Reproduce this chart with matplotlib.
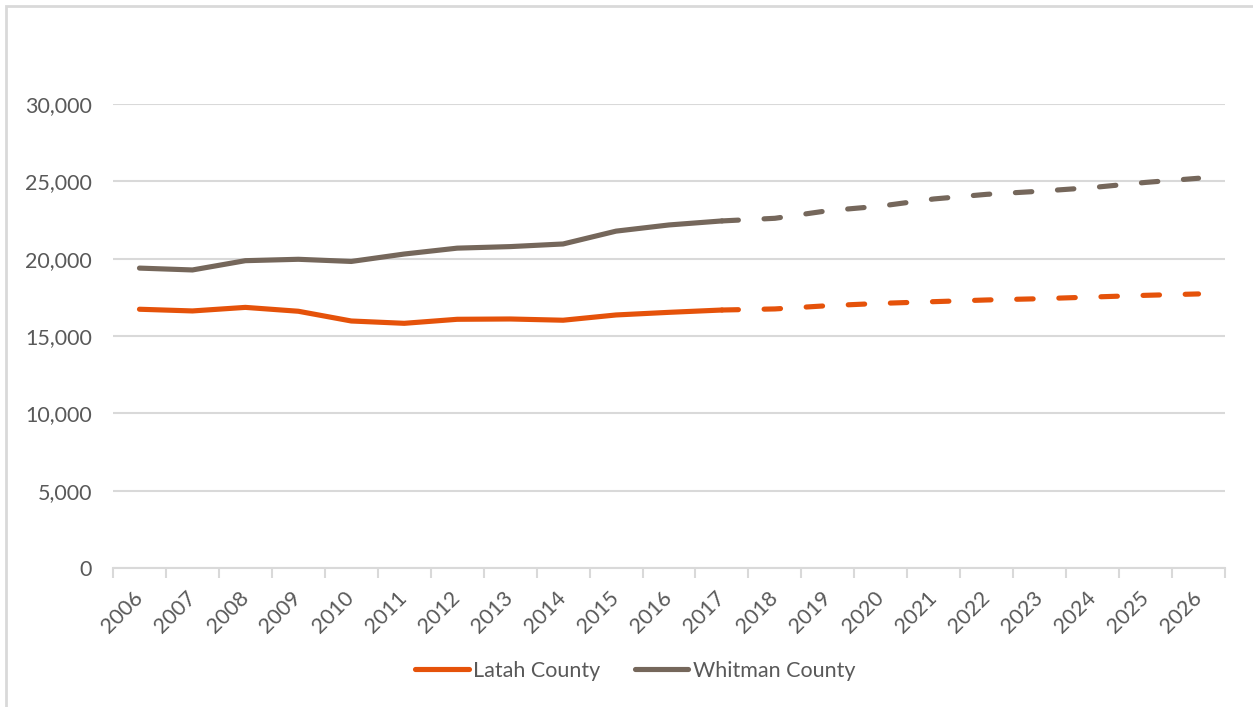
import matplotlib
matplotlib.use("Agg")
import matplotlib.pyplot as plt
from matplotlib.patches import Rectangle
from matplotlib.ticker import FuncFormatter, FixedLocator
from matplotlib.transforms import ScaledTranslation
import numpy as np

plt.rcParams['font.family'] = ['Lato', 'DejaVu Sans']

# years on the category axis
years = [str(y) for y in range(2006, 2027)]

# enrollment history (2006-2017) and projection (2017-2026)
latah_hist = [16730, 16620, 16850, 16600, 15970, 15820, 16080, 16100, 16020, 16360, 16530, 16680]
latah_proj = [16680, 16750, 16960, 17110, 17220, 17330, 17410, 17520, 17630, 17720]
whitman_hist = [19390, 19270, 19870, 19960, 19820, 20300, 20680, 20780, 20950, 21780, 22180, 22440]
whitman_proj = [22440, 22610, 23100, 23400, 23860, 24160, 24360, 24600, 24930, 25200]

orange = '#E5520A'
brown = '#75675B'
txt = '#595959'
grid = '#D9D9D9'

fig = plt.figure(figsize=(12.53, 7.07), dpi=100)
ax = fig.add_axes([113 / 1253, 1 - 568 / 707, 1112 / 1253, 464 / 707])

x = np.arange(len(years))
n_hist = len(latah_hist)
x_hist = x[:n_hist]
x_proj = x[n_hist - 1:]

lw = 3.7
ax.plot(x_hist, latah_hist, color=orange, lw=lw, solid_capstyle='round',
        solid_joinstyle='round', label='Latah County', zorder=3)
ax.plot(x_hist, whitman_hist, color=brown, lw=lw, solid_capstyle='round',
        solid_joinstyle='round', label='Whitman County', zorder=3)
ax.plot(x_proj, latah_proj, color=orange, lw=lw, dashes=(3.2, 5.0),
        dash_capstyle='round', zorder=3)
ax.plot(x_proj, whitman_proj, color=brown, lw=lw, dashes=(3.2, 5.0),
        dash_capstyle='round', zorder=3)

ax.set_xlim(-0.5, len(years) - 0.5)
ax.set_ylim(0, 30000)
ax.set_yticks(np.arange(0, 30001, 5000))
ax.yaxis.set_major_formatter(FuncFormatter(lambda v, p: f'{int(v):,}'))
ax.grid(axis='y', color=grid, lw=1.5, zorder=0)

ax.set_xticks(x)
ax.set_xticklabels(years, rotation=45, ha='right', va='top')
ax.xaxis.set_minor_locator(FixedLocator(np.arange(-0.5, len(years), 1)))
ax.tick_params(axis='x', which='major', length=0, pad=14, labelsize=15.5, colors=txt)
ax.tick_params(axis='x', which='minor', length=7, width=1.5, color=grid)
ax.tick_params(axis='y', length=0, pad=15, labelsize=15.5, colors=txt)

# nudge rotated year labels so their ends sit at the category centres
shift = ScaledTranslation(7 / 100, 0, fig.dpi_scale_trans)
for lab in ax.get_xticklabels():
    lab.set_transform(lab.get_transform() + shift)

for s in ['top', 'right', 'left']:
    ax.spines[s].set_visible(False)
ax.spines['bottom'].set_color(grid)
ax.spines['bottom'].set_linewidth(1.5)

fig.legend(loc='center', bbox_to_anchor=(635 / 1253, 1 - 671 / 707), ncol=2,
           frameon=False, fontsize=15.5, handlelength=2.5, handletextpad=0.2,
           columnspacing=1.6, labelcolor=txt)

# light chart-area border
fig.patches.append(Rectangle((6 / 1253, -0.1), 1.2, 1 - 6 / 707 + 0.1,
                             transform=fig.transFigure, fill=False,
                             edgecolor=grid, lw=2))

fig.savefig('out.png', dpi=100)
